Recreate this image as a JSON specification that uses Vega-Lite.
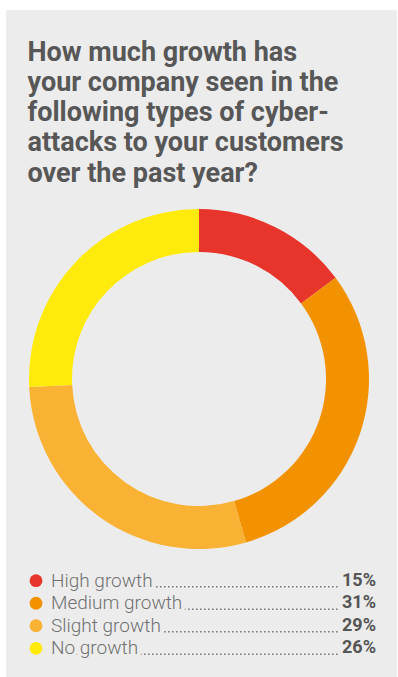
{
  "$schema": "https://vega.github.io/schema/vega-lite/v6.json",
  "width": 398,
  "height": 677,
  "autosize": {"type": "fit", "contains": "padding"},
  "padding": {"left": 6, "top": 10, "right": 1, "bottom": 0},
  "background": "#ffffff",
  "config": {"view": {"fill": "#ececec", "stroke": null}, "font": "Roboto"},
  "data": {"values": [
    {"category": "High growth", "share": 0.15},
    {"category": "Medium growth", "share": 0.31},
    {"category": "Slight growth", "share": 0.29},
    {"category": "No growth", "share": 0.26}
  ]},
  "resolve": {"scale": {"y": "independent"}},
  "layer": [
    {
      "data": {"values": [{"heading": "How much growth has\nyour company seen in the\nfollowing types of cyber-\nattacks to your customers\nover the past year?"}]},
      "mark": {"type": "text", "align": "left", "baseline": "top", "lineBreak": "\n", "lineHeight": 30.3, "font": "Roboto", "fontSize": 27, "fontWeight": "bold", "color": "#575757"},
      "encoding": {
        "text": {"field": "heading", "type": "nominal"},
        "x": {"datum": 21.5, "type": "quantitative", "scale": {"domain": [0, 391], "nice": false, "zero": false}, "axis": null},
        "y": {"datum": 29.5, "type": "quantitative", "scale": {"domain": [0, 667], "nice": false, "zero": false, "reverse": true}, "axis": null}
      }
    },
    {
      "transform": [{"window": [{"op": "row_number", "as": "rank"}]}],
      "mark": {"type": "arc", "innerRadius": 127, "outerRadius": 170},
      "encoding": {
        "theta": {"field": "share", "type": "quantitative", "stack": true},
        "order": {"field": "rank", "type": "quantitative"},
        "color": {"field": "category", "type": "nominal", "sort": null, "legend": null,
          "scale": {"domain": ["High growth", "Medium growth", "Slight growth", "No growth"], "range": ["#e8352b", "#f39200", "#f9b233", "#feeb0b"]}},
        "x": {"datum": 193, "type": "quantitative", "scale": {"domain": [0, 391], "nice": false, "zero": false}, "axis": null},
        "y": {"datum": 369, "type": "quantitative", "scale": {"domain": [0, 667], "nice": false, "zero": false, "reverse": true}, "axis": null}
      }
    },
    {
      "mark": {"type": "rule", "strokeDash": [1.6, 2.4], "strokeWidth": 1.6, "color": "#7a7a7a", "yOffset": 6},
      "encoding": {
        "x": {"datum": 46, "type": "quantitative", "scale": {"domain": [0, 391], "nice": false, "zero": false}, "axis": null},
        "x2": {"datum": 334},
        "y": {"field": "category", "type": "nominal", "sort": null, "scale": {"type": "point", "range": [570.7, 638.3], "padding": 0}, "axis": null}
      }
    },
    {
      "mark": {"type": "point", "shape": "circle", "filled": true, "size": 165, "opacity": 1},
      "encoding": {
        "x": {"datum": 30, "type": "quantitative", "scale": {"domain": [0, 391], "nice": false, "zero": false}, "axis": null},
        "y": {"field": "category", "type": "nominal", "sort": null, "scale": {"type": "point", "range": [570.7, 638.3], "padding": 0}, "axis": null},
        "color": {"field": "category", "type": "nominal", "sort": null, "legend": null}
      }
    },
    {
      "mark": {"type": "text", "align": "left", "baseline": "middle", "font": "Roboto", "fontSize": 19, "fontWeight": 300, "color": "#ececec", "stroke": "#ececec", "strokeWidth": 8},
      "encoding": {
        "text": {"field": "category", "type": "nominal"},
        "x": {"datum": 45, "type": "quantitative", "scale": {"domain": [0, 391], "nice": false, "zero": false}, "axis": null},
        "y": {"field": "category", "type": "nominal", "sort": null, "scale": {"type": "point", "range": [570.7, 638.3], "padding": 0}, "axis": null}
      }
    },
    {
      "mark": {"type": "text", "align": "left", "baseline": "middle", "font": "Roboto", "fontSize": 19, "fontWeight": 300, "color": "#707070"},
      "encoding": {
        "text": {"field": "category", "type": "nominal"},
        "x": {"datum": 45, "type": "quantitative", "scale": {"domain": [0, 391], "nice": false, "zero": false}, "axis": null},
        "y": {"field": "category", "type": "nominal", "sort": null, "scale": {"type": "point", "range": [570.7, 638.3], "padding": 0}, "axis": null}
      }
    },
    {
      "mark": {"type": "text", "align": "right", "baseline": "middle", "font": "Roboto", "fontSize": 18, "fontWeight": "bold", "color": "#555555"},
      "encoding": {
        "text": {"field": "share", "type": "quantitative", "format": ".0%"},
        "x": {"datum": 370, "type": "quantitative", "scale": {"domain": [0, 391], "nice": false, "zero": false}, "axis": null},
        "y": {"field": "category", "type": "nominal", "sort": null, "scale": {"type": "point", "range": [570.7, 638.3], "padding": 0}, "axis": null}
      }
    }
  ]
}
